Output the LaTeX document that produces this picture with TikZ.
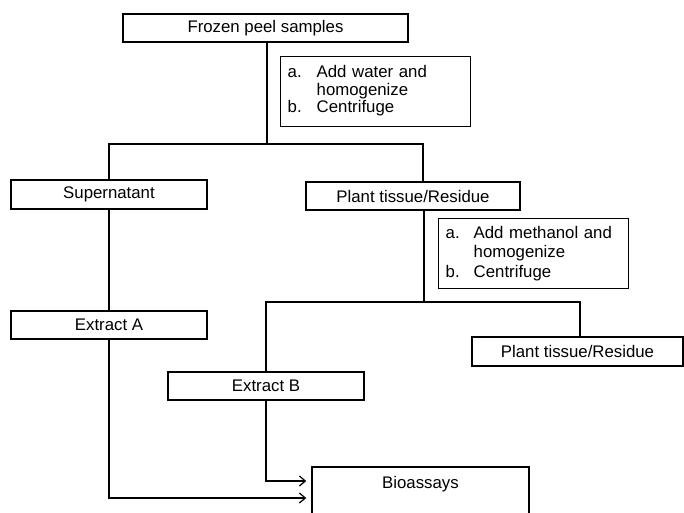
\documentclass[tikz,border=0pt]{standalone}
\usepackage{fontspec}
\setmainfont{Liberation Sans}
\usetikzlibrary{arrows.meta}

\begin{document}
\begin{tikzpicture}[x=1pt, y=-1pt,
    >={Straight Barb[length=6pt, width=10pt]},
    box/.style={draw, line width=1.4pt, inner sep=0pt, font=\fontsize{16.8}{19}\selectfont},
    note/.style={box, anchor=north west, minimum width=190pt, minimum height=70pt, text width=176pt, inner xsep=7pt},
    link/.style={line width=1.2pt}]
      \useasboundingbox (0,0) rectangle (684,513);

      \node[box, minimum width=285pt, minimum height=28pt] (frozen) at (265.5,28) {Frozen peel samples};
      \node[note, font=\fontsize{16.8}{17.5}\selectfont] (note1) at (280,56)
        {\begin{tabular}{@{}p{29pt}@{}l@{}}
          a. & Add water and\\
             & homogenize\\
          b. & Centrifuge
        \end{tabular}};

      \node[box, minimum width=196pt, minimum height=29pt] (supernat) at (109,194.5) {Supernatant};
      \node[box, minimum width=214pt, minimum height=28pt] (plant1) at (413,196) {Plant tissue/Residue};
      \node[note, font=\fontsize{16.8}{19.5}\selectfont] (note2) at (438,218)
        {\begin{tabular}{@{}p{28pt}@{}l@{}}
          a. & Add methanol and\\
             & homogenize\\
          b. & Centrifuge
        \end{tabular}};

      \node[box, minimum width=196pt, minimum height=28pt] (extractA) at (109,325) {Extract A};
      \node[box, minimum width=211pt, minimum height=29pt] (plant2) at (577.5,351.5) {Plant tissue/Residue};
      \node[box, minimum width=196pt, minimum height=28pt] (extractB) at (266,386) {Extract B};

      \node[box, minimum width=217pt, minimum height=80pt] (bio) at (420.5,507) {};
      \node[font=\fontsize{16.8}{19}\selectfont, inner sep=0pt] (biotxt) at (420.5,484) {Bioassays};

      \coordinate (split1) at (267,144);
      \coordinate (split2) at (424,302);

      \draw[link] (frozen.south -| split1) -- (split1);
      \draw[link] (supernat.north) |- (split1) -| ([xshift=10pt]plant1.north);
      \draw[link] ([xshift=11pt]plant1.south) -- (split2);
      \draw[link] (extractB.north) |- (split2) -| ([xshift=2.5pt]plant2.north);
      \draw[link] (supernat) -- (extractA);
      \draw[link, ->] (extractA.south) |- ([yshift=9pt, xshift=-5pt]bio.west);
      \draw[link, ->] (extractB.south) |- ([yshift=26pt, xshift=-5pt]bio.west);
    \end{tikzpicture}
\end{document}
